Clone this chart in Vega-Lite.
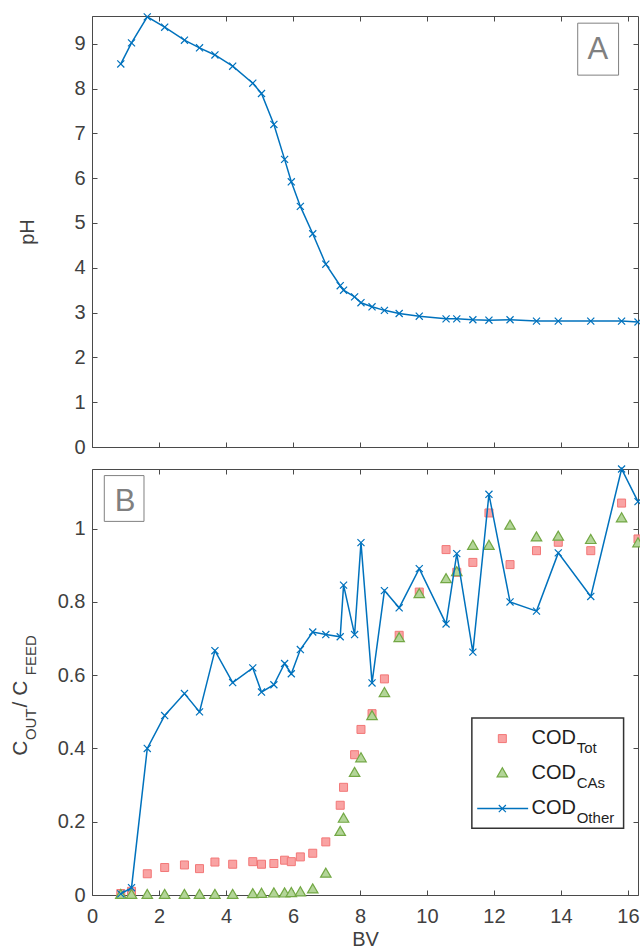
{
  "$schema": "https://vega.github.io/schema/vega-lite/v6.json",
  "background": "white",
  "padding": {"left": 9, "top": 10, "right": 0, "bottom": 0},
  "spacing": 22,
  "bounds": "flush",
  "datasets": {
    "cod": [
      {"BV": 0.86, "pH": 8.55, "Tot": 0.004, "CAs": 0.003, "Other": 0.003},
      {"BV": 1.18, "pH": 9.02, "Tot": 0.01, "CAs": 0.003, "Other": 0.02},
      {"BV": 1.65, "pH": 9.6, "Tot": 0.058, "CAs": 0.003, "Other": 0.40},
      {"BV": 2.17, "pH": 9.37, "Tot": 0.075, "CAs": 0.003, "Other": 0.49},
      {"BV": 2.76, "pH": 9.08, "Tot": 0.082, "CAs": 0.003, "Other": 0.55},
      {"BV": 3.21, "pH": 8.91, "Tot": 0.072, "CAs": 0.003, "Other": 0.50},
      {"BV": 3.67, "pH": 8.75, "Tot": 0.09, "CAs": 0.003, "Other": 0.667},
      {"BV": 4.2, "pH": 8.5, "Tot": 0.084, "CAs": 0.003, "Other": 0.58},
      {"BV": 4.8, "pH": 8.12, "Tot": 0.091, "CAs": 0.005, "Other": 0.62},
      {"BV": 5.06, "pH": 7.89, "Tot": 0.084, "CAs": 0.006, "Other": 0.554},
      {"BV": 5.43, "pH": 7.2, "Tot": 0.086, "CAs": 0.007, "Other": 0.574},
      {"BV": 5.75, "pH": 6.42, "Tot": 0.095, "CAs": 0.007, "Other": 0.632},
      {"BV": 5.95, "pH": 5.92, "Tot": 0.091, "CAs": 0.008, "Other": 0.604},
      {"BV": 6.22, "pH": 5.37, "Tot": 0.104, "CAs": 0.01, "Other": 0.67},
      {"BV": 6.59, "pH": 4.76, "Tot": 0.114, "CAs": 0.018, "Other": 0.718},
      {"BV": 6.98, "pH": 4.08, "Tot": 0.145, "CAs": 0.061, "Other": 0.711},
      {"BV": 7.41, "pH": 3.6, "Tot": 0.245, "CAs": 0.175, "Other": 0.705},
      {"BV": 7.51, "pH": 3.5, "Tot": 0.294, "CAs": 0.211, "Other": 0.846},
      {"BV": 7.84, "pH": 3.35, "Tot": 0.383, "CAs": 0.336, "Other": 0.711},
      {"BV": 8.03, "pH": 3.22, "Tot": 0.452, "CAs": 0.376, "Other": 0.962},
      {"BV": 8.36, "pH": 3.13, "Tot": 0.495, "CAs": 0.491, "Other": 0.579},
      {"BV": 8.73, "pH": 3.05, "Tot": 0.59, "CAs": 0.554, "Other": 0.831},
      {"BV": 9.17, "pH": 2.98, "Tot": 0.709, "CAs": 0.704, "Other": 0.784},
      {"BV": 9.77, "pH": 2.92, "Tot": 0.827, "CAs": 0.824, "Other": 0.891},
      {"BV": 10.57, "pH": 2.86, "Tot": 0.943, "CAs": 0.865, "Other": 0.74},
      {"BV": 10.89, "pH": 2.86, "Tot": 0.881, "CAs": 0.884, "Other": 0.932},
      {"BV": 11.37, "pH": 2.84, "Tot": 0.908, "CAs": 0.956, "Other": 0.663},
      {"BV": 11.85, "pH": 2.83, "Tot": 1.043, "CAs": 0.956, "Other": 1.094},
      {"BV": 12.48, "pH": 2.84, "Tot": 0.902, "CAs": 1.011, "Other": 0.80},
      {"BV": 13.27, "pH": 2.81, "Tot": 0.94, "CAs": 0.979, "Other": 0.775},
      {"BV": 13.92, "pH": 2.81, "Tot": 0.963, "CAs": 0.981, "Other": 0.934},
      {"BV": 14.89, "pH": 2.81, "Tot": 0.94, "CAs": 0.972, "Other": 0.815},
      {"BV": 15.81, "pH": 2.81, "Tot": 1.07, "CAs": 1.031, "Other": 1.163},
      {"BV": 16.3, "pH": 2.79, "Tot": 0.972, "CAs": 0.963, "Other": 1.074}
    ]
  },
  "vconcat": [
    {
      "width": 546,
      "height": 431,
      "data": {"name": "cod"},
      "layer": [
        {
          "mark": {"type": "line", "color": "#0072BD", "strokeWidth": 1.5},
          "encoding": {
            "x": {"field": "BV", "type": "quantitative", "scale": {"domain": [0, 16.3], "nice": false, "zero": false},
                  "axis": {"orient": "bottom", "values": [0, 2, 4, 6, 8, 10, 12, 14, 16], "labels": false, "title": null}},
            "y": {"field": "pH", "type": "quantitative", "scale": {"domain": [0, 9.62], "nice": false},
                  "axis": {"orient": "left", "values": [0, 1, 2, 3, 4, 5, 6, 7, 8, 9], "title": "pH", "titlePadding": 36}}
          }
        },
        {
          "mark": {"type": "point", "shape": "M-1,-1L1,1M-1,1L1,-1", "filled": false, "color": "#0072BD", "size": 50, "strokeWidth": 1.2, "opacity": 1},
          "encoding": {
            "x": {"field": "BV", "type": "quantitative", "scale": {"domain": [0, 16.3], "nice": false, "zero": false},
                  "axis": {"orient": "top", "values": [0, 2, 4, 6, 8, 10, 12, 14, 16], "labels": false, "title": null}},
            "y": {"field": "pH", "type": "quantitative", "scale": {"domain": [0, 9.62], "nice": false},
                  "axis": {"orient": "right", "values": [0, 1, 2, 3, 4, 5, 6, 7, 8, 9], "labels": false, "title": null}}
          }
        },
        {
          "data": {"values": [{}]},
          "mark": {"type": "rect", "fill": "white", "stroke": "#808080", "strokeWidth": 1},
          "encoding": {
            "x": {"datum": 14.5, "type": "quantitative", "scale": {"domain": [0, 16.3], "nice": false, "zero": false}, "axis": null},
            "x2": {"datum": 15.72},
            "y": {"datum": 9.46, "type": "quantitative", "scale": {"domain": [0, 9.62], "nice": false}, "axis": null},
            "y2": {"datum": 8.3}
          }
        },
        {
          "data": {"values": [{}]},
          "mark": {"type": "text", "text": "A", "fontSize": 31, "color": "#808080", "align": "center", "baseline": "alphabetic"},
          "encoding": {
            "x": {"datum": 15.1, "type": "quantitative", "scale": {"domain": [0, 16.3], "nice": false, "zero": false}, "axis": null},
            "y": {"datum": 8.654, "type": "quantitative", "scale": {"domain": [0, 9.62], "nice": false}, "axis": null}
          }
        }
      ],
      "resolve": {"axis": {"x": "independent", "y": "independent"}}
    },
    {
      "width": 546,
      "height": 426,
      "data": {"name": "cod"},
      "layer": [
        {
          "mark": {"type": "point", "shape": "square", "filled": true, "fill": "#f9a3a3", "stroke": "#f27777", "strokeWidth": 1, "size": 64, "opacity": 1},
          "encoding": {
            "x": {"field": "BV", "type": "quantitative", "scale": {"domain": [0, 16.3], "nice": false, "zero": false}, "axis": null},
            "y": {"field": "Tot", "type": "quantitative", "scale": {"domain": [0, 1.163], "nice": false}, "axis": null}
          }
        },
        {
          "mark": {"type": "point", "shape": "triangle-up", "filled": true, "fill": "#b3d598", "stroke": "#73a845", "strokeWidth": 1.2, "size": 110, "opacity": 1},
          "encoding": {
            "x": {"field": "BV", "type": "quantitative", "scale": {"domain": [0, 16.3], "nice": false, "zero": false}, "axis": null},
            "y": {"field": "CAs", "type": "quantitative", "scale": {"domain": [0, 1.163], "nice": false}, "axis": null}
          }
        },
        {
          "mark": {"type": "line", "color": "#0072BD", "strokeWidth": 1.5},
          "encoding": {
            "x": {"field": "BV", "type": "quantitative", "scale": {"domain": [0, 16.3], "nice": false, "zero": false},
                  "axis": {"orient": "bottom", "values": [0, 2, 4, 6, 8, 10, 12, 14, 16], "title": "BV", "titlePadding": 3}},
            "y": {"field": "Other", "type": "quantitative", "scale": {"domain": [0, 1.163], "nice": false},
                  "axis": {"orient": "left", "values": [0, 0.2, 0.4, 0.6, 0.8, 1], "format": "~g", "title": null}}
          }
        },
        {
          "mark": {"type": "point", "shape": "M-1,-1L1,1M-1,1L1,-1", "filled": false, "color": "#0072BD", "size": 50, "strokeWidth": 1.2, "opacity": 1},
          "encoding": {
            "x": {"field": "BV", "type": "quantitative", "scale": {"domain": [0, 16.3], "nice": false, "zero": false},
                  "axis": {"orient": "top", "values": [0, 2, 4, 6, 8, 10, 12, 14, 16], "labels": false, "title": null}},
            "y": {"field": "Other", "type": "quantitative", "scale": {"domain": [0, 1.163], "nice": false},
                  "axis": {"orient": "right", "values": [0, 0.2, 0.4, 0.6, 0.8, 1], "labels": false, "title": null}}
          }
        },
        {
          "data": {"values": [{}]},
          "mark": {"type": "rect", "fill": "white", "stroke": "#808080", "strokeWidth": 1},
          "encoding": {
            "x": {"datum": 0.367, "type": "quantitative", "scale": {"domain": [0, 16.3], "nice": false, "zero": false}, "axis": null},
            "x2": {"datum": 1.552},
            "y": {"datum": 1.145, "type": "quantitative", "scale": {"domain": [0, 1.163], "nice": false}, "axis": null},
            "y2": {"datum": 1.02}
          }
        },
        {
          "data": {"values": [{}]},
          "mark": {"type": "text", "text": "B", "fontSize": 31, "color": "#808080", "align": "center", "baseline": "alphabetic"},
          "encoding": {
            "x": {"datum": 0.985, "type": "quantitative", "scale": {"domain": [0, 16.3], "nice": false, "zero": false}, "axis": null},
            "y": {"datum": 1.047, "type": "quantitative", "scale": {"domain": [0, 1.163], "nice": false}, "axis": null}
          }
        },
        {
          "data": {"values": [{}]},
          "mark": {"type": "rect", "fill": "white", "stroke": "#333333", "strokeWidth": 1.5},
          "encoding": {
            "x": {"datum": 11.34, "type": "quantitative", "scale": {"domain": [0, 16.3], "nice": false, "zero": false}, "axis": null},
            "x2": {"datum": 15.87},
            "y": {"datum": 0.483, "type": "quantitative", "scale": {"domain": [0, 1.163], "nice": false}, "axis": null},
            "y2": {"datum": 0.182}
          }
        },
        {
          "data": {"values": [{}]},
          "mark": {"type": "point", "shape": "square", "filled": true, "fill": "#f9a3a3", "stroke": "#f27777", "strokeWidth": 1, "size": 64, "opacity": 1},
          "encoding": {
            "x": {"datum": 12.25, "type": "quantitative", "scale": {"domain": [0, 16.3], "nice": false, "zero": false}, "axis": null},
            "y": {"datum": 0.427, "type": "quantitative", "scale": {"domain": [0, 1.163], "nice": false}, "axis": null}
          }
        },
        {
          "data": {"values": [{}]},
          "mark": {"type": "point", "shape": "triangle-up", "filled": true, "fill": "#b3d598", "stroke": "#73a845", "strokeWidth": 1.2, "size": 110, "opacity": 1},
          "encoding": {
            "x": {"datum": 12.25, "type": "quantitative", "scale": {"domain": [0, 16.3], "nice": false, "zero": false}, "axis": null},
            "y": {"datum": 0.335, "type": "quantitative", "scale": {"domain": [0, 1.163], "nice": false}, "axis": null}
          }
        },
        {
          "data": {"values": [{}]},
          "mark": {"type": "rule", "color": "#0072BD", "strokeWidth": 1.5},
          "encoding": {
            "x": {"datum": 11.5, "type": "quantitative", "scale": {"domain": [0, 16.3], "nice": false, "zero": false}, "axis": null},
            "x2": {"datum": 13.02},
            "y": {"datum": 0.236, "type": "quantitative", "scale": {"domain": [0, 1.163], "nice": false}, "axis": null}
          }
        },
        {
          "data": {"values": [{}]},
          "mark": {"type": "point", "shape": "M-1,-1L1,1M-1,1L1,-1", "filled": false, "color": "#0072BD", "size": 50, "strokeWidth": 1.2, "opacity": 1},
          "encoding": {
            "x": {"datum": 12.25, "type": "quantitative", "scale": {"domain": [0, 16.3], "nice": false, "zero": false}, "axis": null},
            "y": {"datum": 0.236, "type": "quantitative", "scale": {"domain": [0, 1.163], "nice": false}, "axis": null}
          }
        },
        {
          "data": {"values": [{}]},
          "mark": {"type": "text", "text": "COD", "fontSize": 20, "color": "#1f1f1f", "align": "left", "baseline": "alphabetic"},
          "encoding": {
            "x": {"datum": 13.12, "type": "quantitative", "scale": {"domain": [0, 16.3], "nice": false, "zero": false}, "axis": null},
            "y": {"datum": 0.411, "type": "quantitative", "scale": {"domain": [0, 1.163], "nice": false}, "axis": null}
          }
        },
        {
          "data": {"values": [{}]},
          "mark": {"type": "text", "text": "Tot", "fontSize": 15, "color": "#1f1f1f", "align": "left", "baseline": "alphabetic"},
          "encoding": {
            "x": {"datum": 14.47, "type": "quantitative", "scale": {"domain": [0, 16.3], "nice": false, "zero": false}, "axis": null},
            "y": {"datum": 0.389, "type": "quantitative", "scale": {"domain": [0, 1.163], "nice": false}, "axis": null}
          }
        },
        {
          "data": {"values": [{}]},
          "mark": {"type": "text", "text": "COD", "fontSize": 20, "color": "#1f1f1f", "align": "left", "baseline": "alphabetic"},
          "encoding": {
            "x": {"datum": 13.12, "type": "quantitative", "scale": {"domain": [0, 16.3], "nice": false, "zero": false}, "axis": null},
            "y": {"datum": 0.317, "type": "quantitative", "scale": {"domain": [0, 1.163], "nice": false}, "axis": null}
          }
        },
        {
          "data": {"values": [{}]},
          "mark": {"type": "text", "text": "CAs", "fontSize": 15, "color": "#1f1f1f", "align": "left", "baseline": "alphabetic"},
          "encoding": {
            "x": {"datum": 14.47, "type": "quantitative", "scale": {"domain": [0, 16.3], "nice": false, "zero": false}, "axis": null},
            "y": {"datum": 0.293, "type": "quantitative", "scale": {"domain": [0, 1.163], "nice": false}, "axis": null}
          }
        },
        {
          "data": {"values": [{}]},
          "mark": {"type": "text", "text": "COD", "fontSize": 20, "color": "#1f1f1f", "align": "left", "baseline": "alphabetic"},
          "encoding": {
            "x": {"datum": 13.12, "type": "quantitative", "scale": {"domain": [0, 16.3], "nice": false, "zero": false}, "axis": null},
            "y": {"datum": 0.22, "type": "quantitative", "scale": {"domain": [0, 1.163], "nice": false}, "axis": null}
          }
        },
        {
          "data": {"values": [{}]},
          "mark": {"type": "text", "text": "Other", "fontSize": 15, "color": "#1f1f1f", "align": "left", "baseline": "alphabetic"},
          "encoding": {
            "x": {"datum": 14.47, "type": "quantitative", "scale": {"domain": [0, 16.3], "nice": false, "zero": false}, "axis": null},
            "y": {"datum": 0.197, "type": "quantitative", "scale": {"domain": [0, 1.163], "nice": false}, "axis": null}
          }
        },
        {
          "data": {"values": [{}]},
          "mark": {"type": "text", "text": "C", "fontSize": 21, "angle": 270, "color": "#404040", "align": "left", "baseline": "alphabetic"},
          "encoding": {
            "x": {"datum": -1.94, "type": "quantitative", "scale": {"domain": [0, 16.3], "nice": false, "zero": false}, "axis": null},
            "y": {"datum": 0.38, "type": "quantitative", "scale": {"domain": [0, 1.163], "nice": false}, "axis": null}
          }
        },
        {
          "data": {"values": [{}]},
          "mark": {"type": "text", "text": "OUT", "fontSize": 15, "angle": 270, "color": "#404040", "align": "left", "baseline": "alphabetic"},
          "encoding": {
            "x": {"datum": -1.68, "type": "quantitative", "scale": {"domain": [0, 16.3], "nice": false, "zero": false}, "axis": null},
            "y": {"datum": 0.423, "type": "quantitative", "scale": {"domain": [0, 1.163], "nice": false}, "axis": null}
          }
        },
        {
          "data": {"values": [{}]},
          "mark": {"type": "text", "text": " / C", "fontSize": 21, "angle": 270, "color": "#404040", "align": "left", "baseline": "alphabetic"},
          "encoding": {
            "x": {"datum": -1.94, "type": "quantitative", "scale": {"domain": [0, 16.3], "nice": false, "zero": false}, "axis": null},
            "y": {"datum": 0.512, "type": "quantitative", "scale": {"domain": [0, 1.163], "nice": false}, "axis": null}
          }
        },
        {
          "data": {"values": [{}]},
          "mark": {"type": "text", "text": "FEED", "fontSize": 15, "angle": 270, "color": "#404040", "align": "left", "baseline": "alphabetic"},
          "encoding": {
            "x": {"datum": -1.68, "type": "quantitative", "scale": {"domain": [0, 16.3], "nice": false, "zero": false}, "axis": null},
            "y": {"datum": 0.6, "type": "quantitative", "scale": {"domain": [0, 1.163], "nice": false}, "axis": null}
          }
        }
      ],
      "resolve": {"axis": {"x": "independent", "y": "independent"}}
    }
  ],
  "config": {
    "font": "Liberation Sans",
    "view": {"stroke": "#4a4a4a", "strokeWidth": 1},
    "axis": {
      "domain": false,
      "grid": false,
      "ticks": true,
      "tickColor": "#4a4a4a",
      "tickSize": -5,
      "tickWidth": 1,
      "labelFont": "Liberation Sans",
      "labelFontSize": 20,
      "labelColor": "#404040",
      "labelFlush": false,
      "labelOverlap": false,
      "titleFont": "Liberation Sans",
      "titleFontSize": 20,
      "titleFontWeight": "normal",
      "titleColor": "#404040"
    },
    "axisLeft": {"labelPadding": 12},
    "axisBottom": {"labelPadding": 16}
  }
}
